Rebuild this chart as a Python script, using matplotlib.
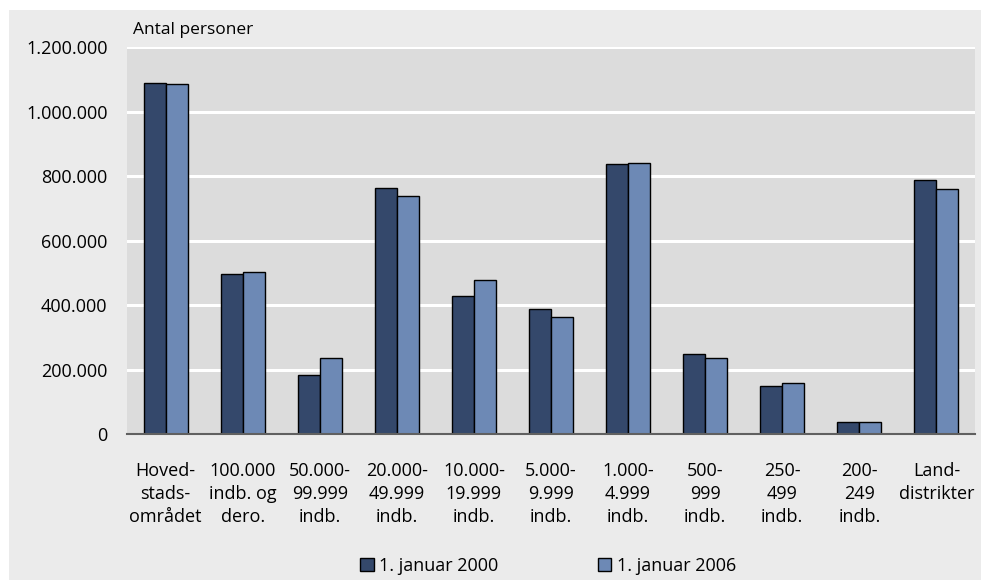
import numpy as np
import matplotlib
matplotlib.use("Agg")
import matplotlib.pyplot as plt
from matplotlib.patches import Rectangle

plt.rcParams['font.family'] = ['Open Sans', 'DejaVu Sans']

# data
categories = ["Hoved-\nstads-\nområdet", "100.000\nindb. og\ndero.", "50.000-\n99.999\nindb.",
              "20.000-\n49.999\nindb.", "10.000-\n19.999\nindb.", "5.000-\n9.999\nindb.",
              "1.000-\n4.999\nindb.", "500-\n999\nindb.", "250-\n499\nindb.",
              "200-\n249\nindb.", "Land-\ndistrikter"]
jan2000 = [1088000, 496000, 183000, 763000, 428000, 389000, 837000, 248000, 149000, 37000, 788000]
jan2006 = [1085000, 502000, 236000, 738000, 478000, 364000, 840000, 236000, 158000, 37000, 760000]
yticks = [0, 200000, 400000, 600000, 800000, 1000000, 1200000]
series_names = ["1. januar 2000", "1. januar 2006"]

c_dark = "#34486b"
c_light = "#6d89b5"

W, H = 981, 580
fig = plt.figure(figsize=(W / 100, H / 100), dpi=100, facecolor="white")
fig.patches.append(Rectangle((9 / W, 0), 1, 1 - 10 / H, transform=fig.transFigure,
                             facecolor="#ebebeb", edgecolor="none", zorder=-10))

ax = fig.add_axes([127 / W, 1 - 434 / H, (975 - 127) / W, (434 - 47) / H])
ax.set_facecolor("#dcdcdc")

x = np.arange(len(categories))
bw = 0.285
ax.bar(x - bw / 2, jan2000, bw, color=c_dark, edgecolor="black", linewidth=1.0,
       label=series_names[0], zorder=3)
ax.bar(x + bw / 2, jan2006, bw, color=c_light, edgecolor="black", linewidth=1.0,
       label=series_names[1], zorder=3)

ax.set_xlim(-0.5, len(categories) - 0.5)
ax.set_ylim(0, 1200000)
ax.set_yticks(yticks)
ax.set_yticklabels([f"{v:,}".replace(",", ".") for v in yticks], fontsize=13)
ax.set_xticks(x)
ax.set_xticklabels(categories, fontsize=13, linespacing=1.35)
ax.tick_params(axis="both", length=0, colors="black")
ax.tick_params(axis="x", pad=20)
ax.tick_params(axis="y", pad=14)
ax.yaxis.grid(True, color="white", linewidth=2.2, zorder=0)
ax.set_axisbelow(True)
for s in ["top", "right", "left"]:
    ax.spines[s].set_visible(False)
ax.spines["bottom"].set_color("#606060")
ax.spines["bottom"].set_linewidth(1.5)
ax.spines["bottom"].set_zorder(4)

fig.text(133 / W, 1 - 30 / H, "Antal personer", fontsize=12.5, va="center", ha="left")

leg = fig.legend(loc="center", bbox_to_anchor=(548 / W, 1 - 566 / H), ncol=2, frameon=False,
                 fontsize=13, handlelength=0.75, handleheight=0.75, handletextpad=0.3,
                 columnspacing=5.5)

fig.savefig("out.png", dpi=100, facecolor=fig.get_facecolor())
